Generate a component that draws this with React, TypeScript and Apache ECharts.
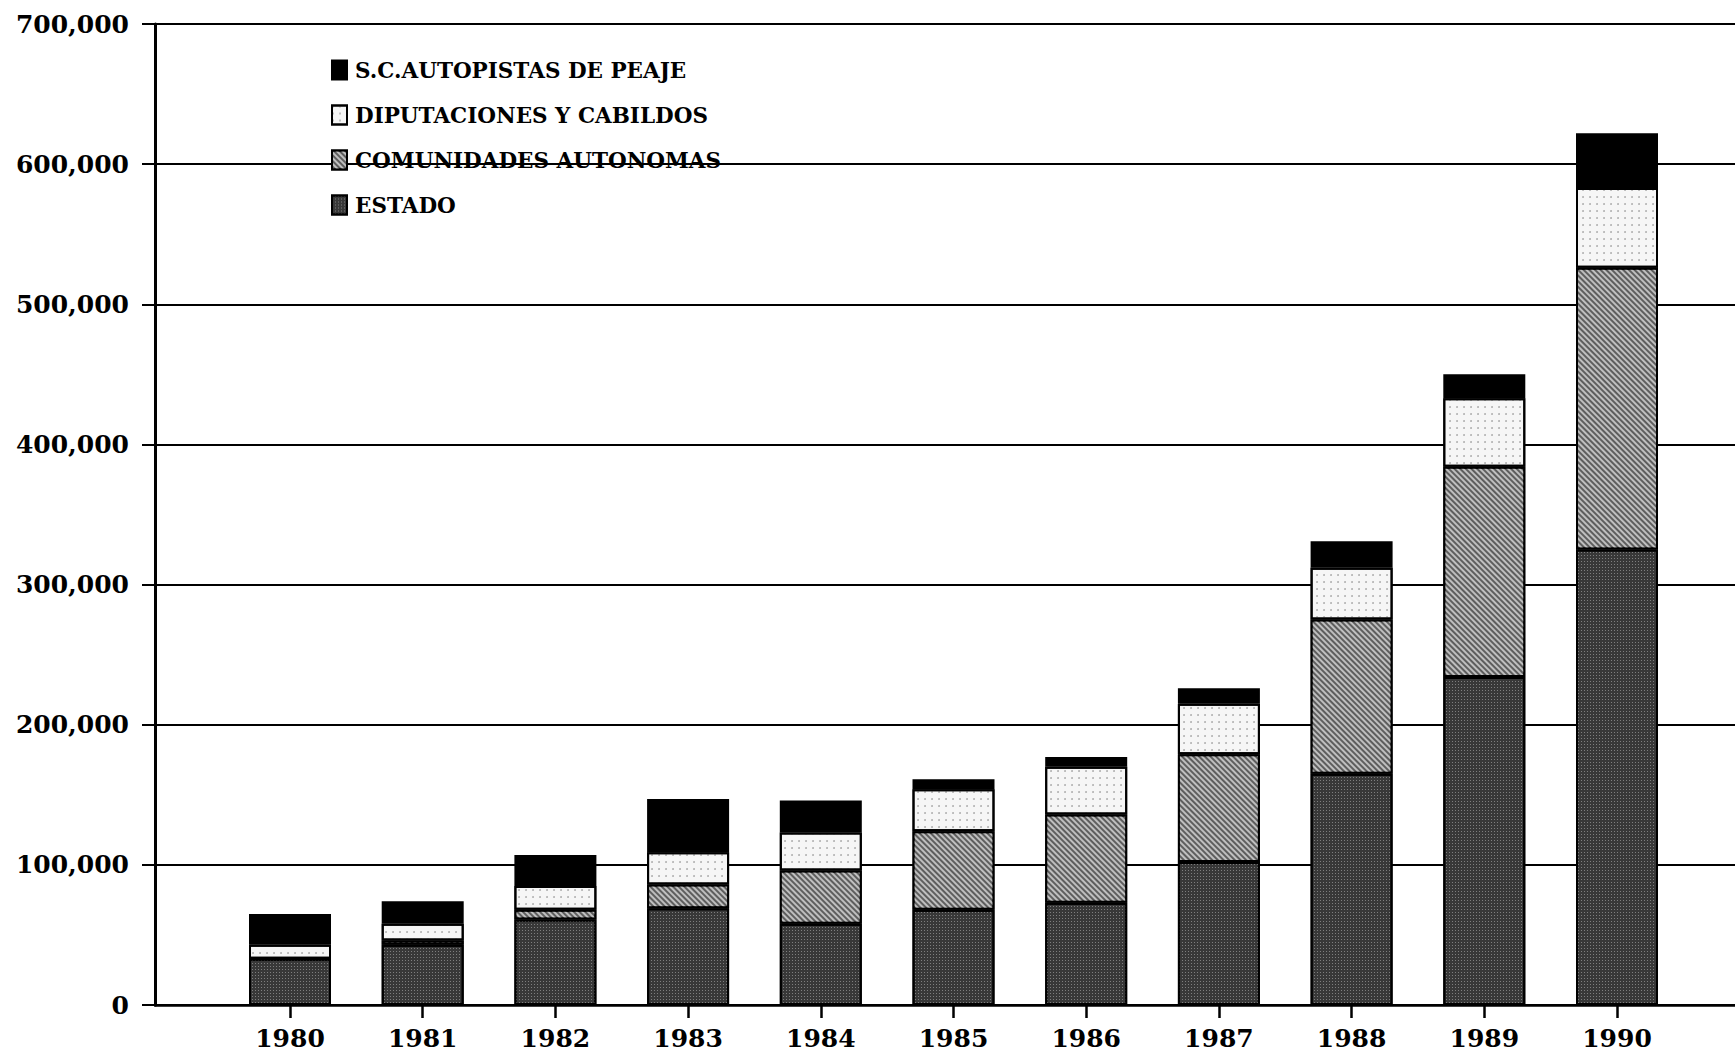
import React, { useEffect, useRef } from "react";
import * as echarts from "echarts";

const years = ["1980", "1981", "1982", "1983", "1984", "1985", "1986", "1987", "1988", "1989", "1990"];
const estado = [33000, 43000, 61000, 69000, 58000, 68000, 73000, 102000, 165000, 234000, 325000];
const comunidades = [0, 3000, 7000, 17000, 38000, 56000, 63000, 77000, 110000, 150000, 201000];
const diputaciones = [10000, 12000, 17000, 23000, 27000, 30000, 34000, 36000, 37000, 49000, 57000];
const autopistas = [22000, 16000, 22000, 38000, 23000, 7000, 7000, 11000, 19000, 17000, 39000];
const yMin = 0;
const yMax = 700000;
const yStep = 100000;
const legendOrder = ["S.C.AUTOPISTAS DE PEAJE", "DIPUTACIONES Y CABILDOS", "COMUNIDADES AUTONOMAS", "ESTADO"];

const FONT = "DejaVu Serif";

export default function App() {
  const ref = useRef<HTMLDivElement>(null);
  useEffect(() => {
    document.body.style.margin = "0";
    const chart = echarts.init(ref.current!, null, { renderer: "svg" });
    const common = {
      type: "bar",
      stack: "total",
      xAxisIndex: 1,
      yAxisIndex: 1,
      barWidth: 82,
    };
    chart.setOption({
      animation: false,
      backgroundColor: "#ffffff",
      grid: [
        { left: 155, right: 0, top: 24, bottom: 50 },
        { left: 223.65, right: 51.65, top: 24, bottom: 50 },
      ],
      legend: {
        data: legendOrder,
        orient: "vertical",
        icon: "rect",
        left: 326,
        top: 54,
        itemWidth: 15,
        itemHeight: 19,
        itemGap: 23,
        textStyle: {
          fontFamily: FONT,
          fontWeight: "bold",
          fontSize: 21.5,
          color: "#000",
          lineHeight: 20,
          padding: [0, 0, 0, 3],
        },
      },
      xAxis: [
        {
          gridIndex: 0,
          type: "value",
          min: 0,
          max: 1,
          axisLine: { show: true, lineStyle: { color: "#000", width: 2.5 } },
          axisTick: { show: false },
          axisLabel: { show: false },
          splitLine: { show: false },
        },
        {
          gridIndex: 1,
          type: "category",
          data: years,
          axisLine: { show: false },
          axisTick: { show: true, alignWithLabel: true, length: 13, lineStyle: { color: "#000", width: 2.5 } },
          axisLabel: {
            margin: 21,
            fontFamily: FONT,
            fontWeight: "bold",
            fontSize: 25,
            color: "#000",
          },
          splitLine: { show: false },
        },
      ],
      yAxis: [
        {
          gridIndex: 0,
          type: "value",
          min: yMin,
          max: yMax,
          interval: yStep,
          axisLine: { show: true, lineStyle: { color: "#000", width: 3 } },
          axisTick: { show: true, length: 13, lineStyle: { color: "#000", width: 2 } },
          axisLabel: {
            margin: 26,
            fontFamily: FONT,
            fontWeight: "bold",
            fontSize: 25,
            color: "#000",
            formatter: (v: number) => v.toLocaleString("en-US"),
          },
          splitLine: { show: true, lineStyle: { color: "#000", width: 2 } },
        },
        {
          gridIndex: 1,
          type: "value",
          min: yMin,
          max: yMax,
          interval: yStep,
          show: false,
          splitLine: { show: false },
        },
      ],
      series: [
        {
          ...common,
          name: "ESTADO",
          data: estado,
          itemStyle: {
            color: "#383838",
            borderColor: "#000",
            borderWidth: 2,
            decal: {
              symbol: "rect",
              symbolSize: 1,
              dashArrayX: [1, 2],
              dashArrayY: [1, 2],
              color: "rgba(210,210,210,0.45)",
            },
          },
        },
        {
          ...common,
          name: "COMUNIDADES AUTONOMAS",
          data: comunidades,
          itemStyle: {
            color: "#5e5e5e",
            borderColor: "#000",
            borderWidth: 2,
            decal: {
              symbol: "rect",
              symbolSize: 1,
              dashArrayX: [1, 0],
              dashArrayY: [2, 2],
              rotation: Math.PI / 4,
              color: "rgba(255,255,255,0.6)",
            },
          },
        },
        {
          ...common,
          name: "DIPUTACIONES Y CABILDOS",
          data: diputaciones,
          itemStyle: {
            color: "#f6f6f6",
            borderColor: "#000",
            borderWidth: 2,
            decal: {
              symbol: "circle",
              symbolSize: 0.6,
              dashArrayX: [[2, 5]],
              dashArrayY: [2, 5],
              color: "#555",
            },
          },
        },
        {
          ...common,
          name: "S.C.AUTOPISTAS DE PEAJE",
          data: autopistas,
          itemStyle: {
            color: "#000",
            borderColor: "#000",
            borderWidth: 2,
          },
        },
      ],
    });
    return () => chart.dispose();
  }, []);
  return <div ref={ref} style={{ width: 1735, height: 1055 }} />;
}
